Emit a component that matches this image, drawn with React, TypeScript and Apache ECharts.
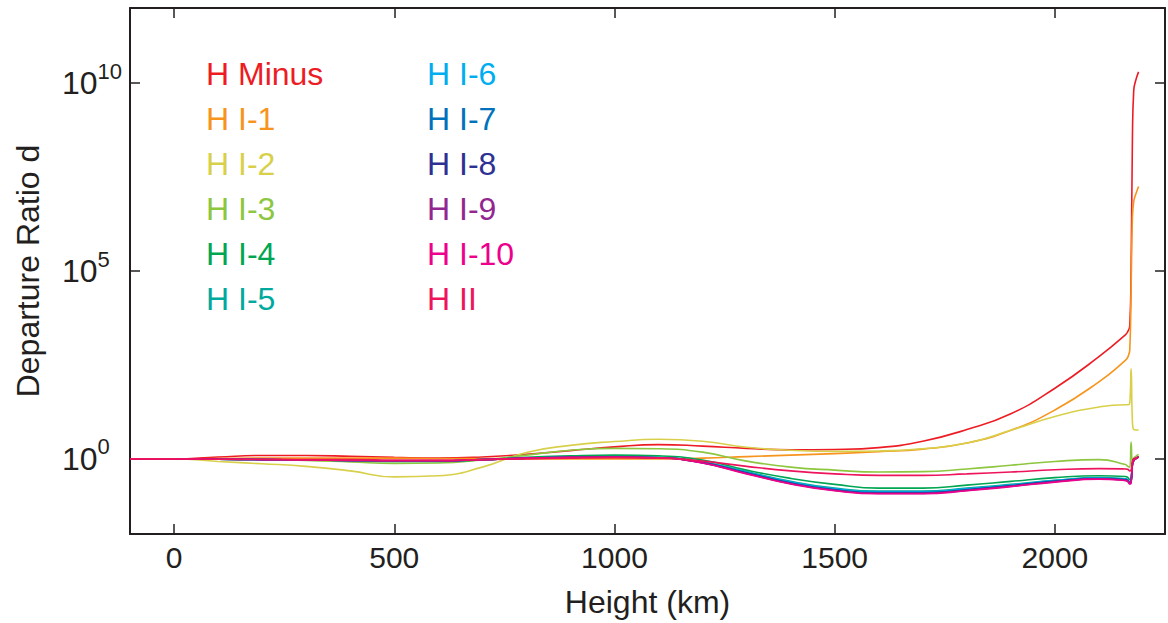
import React, { useEffect, useRef } from "react";
import * as echarts from "echarts";

// Heights (km) of the sampled points
const heights = [-100, 0, 100, 200, 300, 400, 500, 600, 700, 800, 900, 1000, 1100, 1200, 1300, 1400, 1500, 1600, 1700, 1800, 1900, 2000, 2100, 2160];
const tailHeights = [2166, 2170, 2173, 2176, 2179, 2183, 2190];

// log10 of departure ratio d
const hMinus = [0, 0, 0.05, 0.09, 0.09, 0.07, 0.04, 0.02, 0.05, 0.12, 0.22, 0.32, 0.38, 0.34, 0.28, 0.24, 0.25, 0.3, 0.47, 0.78, 1.2, 1.88, 2.72, 3.3];
const hMinusTail = [3.4, 3.55, 5.0, 8.5, 9.8, 10.05, 10.3];

const hI1 = [0, 0, 0.01, 0.02, 0.02, 0.02, 0.02, 0.01, 0.01, 0.0, 0.0, 0.0, 0.0, 0.02, 0.06, 0.1, 0.14, 0.19, 0.26, 0.42, 0.76, 1.3, 2.05, 2.62];
const hI1Tail = [2.72, 2.9, 4.5, 6.4, 6.85, 7.02, 7.25];

const hI2 = [0, 0, -0.07, -0.13, -0.2, -0.32, -0.48, -0.45, -0.22, 0.17, 0.36, 0.46, 0.52, 0.47, 0.31, 0.23, 0.2, 0.21, 0.27, 0.42, 0.76, 1.13, 1.38, 1.44];
const hI2Tail = [1.44, 1.48, 2.4, 1.0, 0.78, 0.77, 0.77];

const hI3 = [0, 0, -0.01, -0.02, -0.04, -0.08, -0.12, -0.11, -0.03, 0.1, 0.23, 0.28, 0.27, 0.18, -0.06, -0.22, -0.3, -0.35, -0.34, -0.27, -0.17, -0.07, -0.02, -0.15];
const hI3Tail = [-0.2, -0.22, 0.45, -0.05, 0.02, 0.06, 0.12];

const hI4 = [0, 0, -0.01, -0.02, -0.03, -0.05, -0.07, -0.07, -0.03, 0.04, 0.08, 0.1, 0.08, -0.03, -0.3, -0.52, -0.68, -0.78, -0.78, -0.7, -0.6, -0.5, -0.45, -0.47];
const hI4Tail = [-0.5, -0.55, -0.5, -0.1, -0.02, 0.0, 0.05];

const hI5 = [0, 0, -0.01, -0.02, -0.03, -0.04, -0.05, -0.05, -0.02, 0.02, 0.05, 0.06, 0.04, -0.08, -0.34, -0.6, -0.78, -0.86, -0.86, -0.78, -0.68, -0.57, -0.5, -0.53];
const hI5Tail = [-0.56, -0.62, -0.58, -0.14, -0.04, 0.01, 0.06];

const hI6 = [0, 0, -0.01, -0.02, -0.03, -0.04, -0.05, -0.05, -0.02, 0.02, 0.04, 0.05, 0.03, -0.09, -0.36, -0.62, -0.8, -0.88, -0.88, -0.8, -0.7, -0.58, -0.51, -0.54];
const hI6Tail = [-0.57, -0.63, -0.59, -0.15, -0.05, 0.0, 0.05];

const hI7 = [0, 0, -0.01, -0.02, -0.03, -0.04, -0.05, -0.05, -0.02, 0.02, 0.04, 0.05, 0.03, -0.1, -0.37, -0.64, -0.82, -0.9, -0.9, -0.82, -0.71, -0.59, -0.52, -0.55];
const hI7Tail = [-0.58, -0.64, -0.6, -0.15, -0.05, 0.0, 0.05];

const hI8 = [0, 0, -0.01, -0.02, -0.03, -0.04, -0.05, -0.05, -0.02, 0.02, 0.04, 0.05, 0.03, -0.1, -0.38, -0.65, -0.83, -0.91, -0.91, -0.83, -0.72, -0.6, -0.53, -0.56];
const hI8Tail = [-0.59, -0.65, -0.61, -0.15, -0.05, 0.0, 0.05];

const hI9 = [0, 0, -0.01, -0.02, -0.03, -0.04, -0.05, -0.05, -0.02, 0.02, 0.04, 0.05, 0.03, -0.11, -0.39, -0.66, -0.84, -0.92, -0.92, -0.84, -0.73, -0.61, -0.53, -0.57];
const hI9Tail = [-0.6, -0.66, -0.62, -0.16, -0.05, 0.0, 0.05];

const hI10 = [0, 0, -0.01, -0.02, -0.03, -0.04, -0.05, -0.05, -0.02, 0.02, 0.04, 0.05, 0.03, -0.11, -0.4, -0.67, -0.85, -0.93, -0.93, -0.85, -0.74, -0.62, -0.54, -0.58];
const hI10Tail = [-0.61, -0.67, -0.63, -0.16, -0.05, 0.0, 0.05];

const hII = [0, 0, -0.01, -0.01, -0.02, -0.02, -0.03, -0.03, -0.02, 0.0, 0.02, 0.03, 0.02, -0.06, -0.2, -0.32, -0.4, -0.44, -0.44, -0.4, -0.35, -0.29, -0.26, -0.27];
const hIITail = [-0.28, -0.32, -0.3, -0.05, 0.0, 0.02, 0.06];

const seriesNames = ["H Minus", "H I-1", "H I-2", "H I-3", "H I-4", "H I-5", "H I-6", "H I-7", "H I-8", "H I-9", "H I-10", "H II"];
const seriesBodies = [hMinus, hI1, hI2, hI3, hI4, hI5, hI6, hI7, hI8, hI9, hI10, hII];
const seriesTails = [hMinusTail, hI1Tail, hI2Tail, hI3Tail, hI4Tail, hI5Tail, hI6Tail, hI7Tail, hI8Tail, hI9Tail, hI10Tail, hIITail];
const seriesColors = ["#ed1c24", "#f7941d", "#d8d04a", "#8dc63f", "#00a651", "#00a99d", "#00aeef", "#0072bc", "#2e3192", "#92278f", "#ec008c", "#ed145b"];

const xTicks = [0, 500, 1000, 1500, 2000];
const yTicks = [0, 5, 10];

const FONT = "'Liberation Sans', Arial, Helvetica, sans-serif";
const INK = "#231f20";

export default function App() {
  const ref = useRef<HTMLDivElement>(null);
  useEffect(() => {
    const chart = echarts.init(ref.current!, null, { renderer: "svg" });
    const series = seriesNames.map((name, i) => {
      const data: number[][] = [];
      heights.forEach((h, j) => data.push([h, seriesBodies[i][j]]));
      tailHeights.forEach((h, j) => data.push([h, seriesTails[i][j]]));
      return {
        name,
        type: "line",
        data,
        symbol: "none",
        smooth: 0.5,
        lineStyle: { color: seriesColors[i], width: 1.6 },
        itemStyle: { color: seriesColors[i] },
        z: 2 + i,
      };
    });
    const legendItem = (i: number) => ({ name: seriesNames[i], textStyle: { color: seriesColors[i] } });
    const legendCommon = {
      orient: "vertical",
      itemWidth: 0,
      itemHeight: 0,
      itemGap: 0,
      selectedMode: false,
      textStyle: { fontSize: 32, fontFamily: FONT, lineHeight: 45 },
      padding: 0,
    };
    const tickStyle = { show: true, inside: true, length: 10, lineStyle: { color: INK, width: 1.5 } };
    const lineStyle = { show: true, onZero: false, lineStyle: { color: INK, width: 2 } };
    chart.setOption({
      animation: false,
      backgroundColor: "#ffffff",
      grid: { left: 130, right: 3, top: 8, bottom: 89, containLabel: false },
      legend: [
        { ...legendCommon, left: 200, top: 51, data: [0, 1, 2, 3, 4, 5].map(legendItem) },
        { ...legendCommon, left: 421, top: 51, data: [6, 7, 8, 9, 10, 11].map(legendItem) },
      ],
      xAxis: [
        {
          type: "value",
          min: -100,
          max: 2250,
          position: "bottom",
          name: "Height (km)",
          nameLocation: "middle",
          nameGap: 52,
          nameTextStyle: { fontSize: 32, fontFamily: FONT, color: INK },
          axisLine: lineStyle,
          axisTick: { ...tickStyle, customValues: xTicks },
          axisLabel: {
            customValues: xTicks,
            fontSize: 30,
            fontFamily: FONT,
            color: INK,
            margin: 8,
            formatter: (v: number) => String(v),
          },
          splitLine: { show: false },
        },
        {
          type: "value",
          min: -100,
          max: 2250,
          position: "top",
          axisLine: lineStyle,
          axisTick: { ...tickStyle, customValues: xTicks },
          axisLabel: { show: false },
          splitLine: { show: false },
        },
      ],
      yAxis: [
        {
          type: "value",
          min: -2,
          max: 12,
          position: "left",
          name: "Departure Ratio d",
          nameLocation: "middle",
          nameGap: 86,
          nameTextStyle: { fontSize: 32, fontFamily: FONT, color: INK },
          axisLine: lineStyle,
          axisTick: { ...tickStyle, customValues: yTicks },
          axisLabel: {
            customValues: yTicks,
            align: "left",
            margin: 68,
            formatter: (v: number) => `{b|10}{s|${v}}`,
            rich: {
              b: { fontSize: 32, fontFamily: FONT, color: INK },
              s: { fontSize: 22, fontFamily: FONT, color: INK, padding: [0, 0, 24, 0] },
            },
          },
          splitLine: { show: false },
        },
        {
          type: "value",
          min: -2,
          max: 12,
          position: "right",
          axisLine: lineStyle,
          axisTick: { ...tickStyle, customValues: yTicks },
          axisLabel: { show: false },
          splitLine: { show: false },
        },
      ],
      series,
    });
    return () => chart.dispose();
  }, []);
  return (
    <div
      ref={ref}
      style={{ position: "fixed", left: 0, top: 0, width: 1168, height: 623, background: "#fff" }}
    />
  );
}
